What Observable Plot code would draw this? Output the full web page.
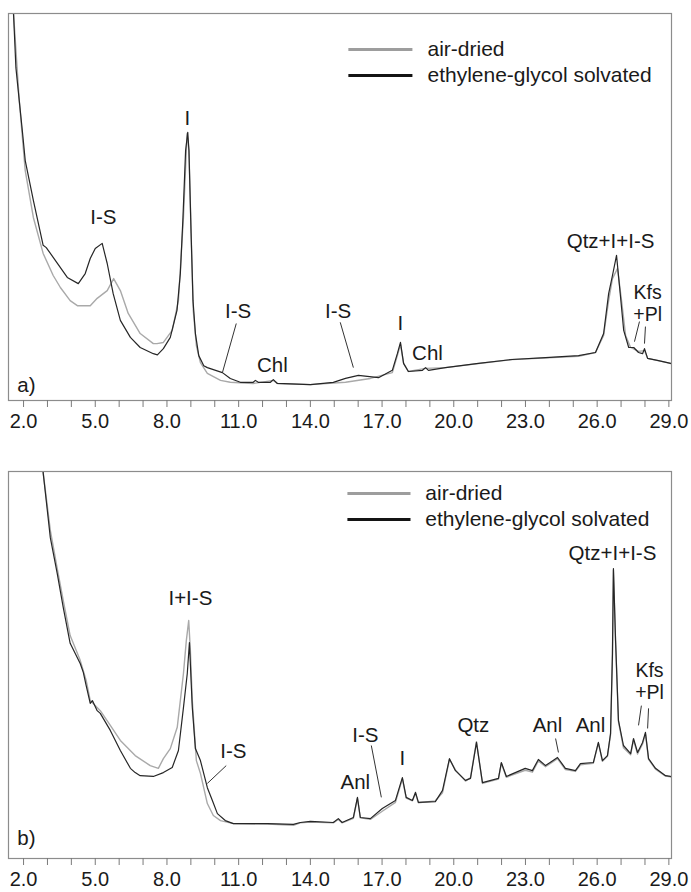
<!DOCTYPE html>
<html><head><meta charset="utf-8">
<script src="https://cdn.jsdelivr.net/npm/d3@7"></script>
<script src="https://cdn.jsdelivr.net/npm/@observablehq/plot@0.6"></script>
<style>
body{margin:0;background:#fff;}
#chart{width:691px;color:#1a1a1a;}
#chart svg{display:block;overflow:visible;}
g[aria-label="x-axis tick"]{stroke:#7a7a7a;}
</style></head><body><div id="chart"></div>
<script>
// ---- data (2θ in degrees, relative intensity) ----
const xTicks = d3.range(2, 30, 1);
const xTickLabels = [2, 5, 8, 11, 14, 17, 20, 23, 26, 29];
const seriesNames = ["air-dried", "ethylene-glycol solvated"];

const aAirDried = [[1.45,118],[1.58,100],[1.82,77.5],[2.07,59.4],[2.41,47.3],[2.82,38.0],[3.24,32.3],[3.54,29.2],[3.95,25.8],[4.25,24.5],[4.79,24.5],[5.08,26.4],[5.50,28.4],[5.77,31.5],[6.05,28.4],[6.38,22.5],[6.88,17.3],[7.43,14.7],[7.58,14.7],[7.85,15.0],[8.22,18.1],[8.48,25.8],[8.69,47.3],[8.84,69.0],[8.92,64.6],[9.01,43.2],[9.10,23.3],[9.23,14.2],[9.40,9.8],[9.69,7.0],[10.24,5.2],[10.65,4.7],[11.61,4.4],[12.45,5.2],[12.62,4.4],[14.00,4.1],[15.47,4.7],[16.51,5.7],[17.43,7.2],[17.64,11.6],[17.77,14.5],[17.90,9.6],[18.10,7.5],[18.82,8.3],[19.65,8.5],[22.45,10.6],[25.22,11.4],[25.93,12.4],[26.27,16.8],[26.48,25.8],[26.64,31.5],[26.85,34.1],[27.02,25.8],[27.19,16.8],[27.40,13.7],[27.73,12.7],[27.98,12.9],[28.11,10.9],[29.07,9.6],[29.11,9.5]];

const aGlycol = [[1.45,115],[1.58,100],[1.68,86.0],[1.82,77.5],[1.96,69.0],[2.07,62.0],[2.41,51.7],[2.82,40.1],[2.95,39.5],[3.24,37.0],[3.83,31.8],[4.29,30.2],[4.58,32.8],[4.79,36.7],[5.00,39.3],[5.29,40.6],[5.50,35.4],[5.75,27.6],[6.05,20.7],[6.47,16.3],[6.88,13.7],[7.43,12.1],[7.60,11.8],[7.85,13.4],[8.14,16.3],[8.42,23.3],[8.56,32.8],[8.67,47.3],[8.78,64.6],[8.87,69.3],[8.92,64.6],[9.01,43.2],[9.09,25.8],[9.19,17.3],[9.33,11.6],[9.54,9.0],[9.69,8.5],[10.32,7.2],[10.65,5.7],[11.07,4.7],[11.61,4.7],[11.70,5.2],[11.82,4.7],[12.33,4.7],[12.45,5.4],[12.62,4.4],[14.00,4.1],[14.96,4.7],[15.47,5.7],[16.01,6.5],[16.85,5.9],[17.43,7.8],[17.64,12.1],[17.77,15.0],[17.90,9.6],[18.10,7.5],[18.69,7.8],[18.82,8.5],[18.94,7.8],[19.65,8.5],[21.03,9.6],[22.45,10.6],[23.84,11.1],[25.22,11.6],[25.93,12.4],[26.27,17.3],[26.48,27.6],[26.64,32.3],[26.81,37.5],[26.94,29.2],[27.11,18.1],[27.32,13.7],[27.53,13.7],[27.73,12.4],[27.90,12.1],[27.98,13.4],[28.11,10.9],[28.57,10.3],[29.07,9.6],[29.11,9.5]];

const bAirDried = [[2.50,140],[2.82,99.7],[3.12,84.8],[3.41,74.9],[3.66,66.7],[3.95,57.6],[4.37,51.2],[4.62,46.0],[4.79,40.8],[5.21,38.2],[5.63,34.4],[6.05,30.5],[6.67,26.6],[7.30,24.0],[7.64,23.3],[7.85,25.8],[8.14,28.4],[8.43,33.9],[8.69,47.8],[8.81,56.3],[8.91,61.5],[8.98,53.7],[9.06,40.8],[9.23,25.3],[9.40,22.0],[9.69,14.2],[9.94,11.1],[10.24,9.8],[10.78,9.0],[12.20,8.9],[13.29,8.6],[13.58,9.2],[14.00,9.4],[14.96,9.2],[15.17,10.1],[15.33,9.2],[15.80,10.4],[15.97,15.5],[16.09,10.5],[16.51,10.1],[17.01,12.2],[17.56,14.5],[17.85,20.6],[18.01,15.6],[18.27,14.9],[18.40,16.8],[18.52,14.4],[19.23,14.9],[19.53,17.0],[19.82,25.6],[20.07,22.9],[20.49,20.0],[20.70,20.9],[20.95,30.2],[21.20,19.4],[21.87,20.5],[21.99,24.6],[22.20,21.0],[22.99,22.8],[23.29,22.3],[23.54,25.2],[23.84,23.7],[24.34,25.8],[24.67,23.0],[25.09,22.5],[25.30,24.2],[25.84,24.6],[26.05,29.8],[26.22,25.1],[26.43,26.4],[26.56,32.0],[26.64,52.5],[26.68,74.5],[26.77,56.0],[26.89,35.4],[27.10,28.6],[27.40,26.8],[27.52,30.6],[27.69,27.0],[27.90,29.6],[28.02,32.2],[28.15,25.6],[28.44,23.1],[28.86,21.3],[29.07,21.1],[29.11,21.0]];

const bGlycol = [[2.50,140],[2.82,99.7],[3.12,82.9],[3.41,73.6],[3.66,64.9],[3.95,55.6],[4.37,50.4],[4.50,48.1],[4.62,44.7],[4.79,40.1],[4.88,40.8],[5.08,38.2],[5.21,37.5],[5.63,33.1],[6.05,27.9],[6.47,23.3],[6.67,22.2],[6.88,21.4],[7.43,21.2],[7.85,22.2],[8.22,23.5],[8.48,27.9],[8.69,39.0],[8.85,47.8],[8.94,55.8],[9.06,39.0],[9.19,28.4],[9.40,25.3],[9.69,18.3],[9.90,15.0],[10.11,11.6],[10.44,9.8],[10.78,9.0],[12.20,9.0],[13.29,8.8],[13.58,9.3],[14.00,9.6],[14.96,9.3],[15.17,10.3],[15.33,9.3],[15.80,10.6],[15.97,15.8],[16.09,10.6],[16.51,10.3],[17.01,12.9],[17.56,15.0],[17.85,20.9],[18.01,15.8],[18.27,15.0],[18.40,17.1],[18.52,14.5],[19.23,14.7],[19.53,17.6],[19.82,25.8],[20.07,22.7],[20.49,20.2],[20.70,20.7],[20.95,30.0],[21.20,19.6],[21.87,20.7],[21.99,24.8],[22.20,21.2],[22.99,23.3],[23.29,22.7],[23.54,25.6],[23.84,24.0],[24.34,26.1],[24.67,23.3],[25.09,22.7],[25.30,24.5],[25.84,24.8],[26.05,30.0],[26.22,25.3],[26.43,26.6],[26.56,32.3],[26.64,53.0],[26.68,74.9],[26.77,56.3],[26.89,35.7],[27.10,29.2],[27.40,27.1],[27.52,31.0],[27.69,27.4],[27.90,30.0],[28.02,32.6],[28.15,25.8],[28.44,23.3],[28.86,21.4],[29.07,21.2],[29.11,21.1]];

// ---- annotations ----
const aLabels = [
  {t:"I-S", x:5.34, y:47.3}, {t:"I", x:8.85, y:72.9}, {t:"I-S", x:10.98, y:23.0},
  {t:"Chl", x:12.41, y:9.0}, {t:"I-S", x:15.16, y:23.0}, {t:"I", x:17.77, y:19.9},
  {t:"Chl", x:18.90, y:12.1}, {t:"Qtz+I+I-S", x:26.56, y:41.1}
];
const aStacked = [{t:"Kfs\n+Pl", x:28.11, y:25.1}];
const aLeaders = [
  {x1:10.90, y1:19.9, x2:10.32, y2:7.2}, {x1:15.25, y1:20.2, x2:15.80, y2:8.5},
  {x1:27.77, y1:20.4, x2:27.56, y2:15.2}, {x1:28.02, y1:19.1, x2:27.98, y2:14.7}
];
const bLabels = [
  {t:"I+I-S", x:8.98, y:67.2}, {t:"I-S", x:10.78, y:27.6}, {t:"Anl", x:15.88, y:19.6},
  {t:"I-S", x:16.30, y:31.8}, {t:"I", x:17.85, y:25.8}, {t:"Qtz", x:20.82, y:34.4},
  {t:"Anl", x:23.92, y:34.4}, {t:"Anl", x:25.72, y:34.4}, {t:"Qtz+I+I-S", x:26.64, y:78.8}
];
const bStacked = [{t:"Kfs\n+Pl", x:28.19, y:45.8}];
const bLeaders = [
  {x1:10.48, y1:24.0, x2:9.69, y2:19.4}, {x1:16.55, y1:29.2, x2:16.97, y2:15.8},
  {x1:24.26, y1:31.0, x2:24.38, y2:27.4},
  {x1:27.85, y1:39.5, x2:27.73, y2:34.4}, {x1:28.15, y1:38.8, x2:28.11, y2:33.6}
];

const FONT = '"Liberation Sans", Arial, Helvetica, sans-serif';
const GREY = "#a9a9a9", BLACK = "#262626";

function panel(opts) {
  const toObj = arr => arr.map(([x, y]) => ({x, y}));
  const legendRows = seriesNames.map((name, i) => ({
    name, color: i === 0 ? "#9d9d9d" : "#141414",
    y: opts.legend.y[i], x1: opts.legend.x1, x2: opts.legend.x2, tx: opts.legend.tx
  }));
  return Plot.plot({
    width: 691, height: opts.height,
    marginLeft: 8, marginRight: 20, marginTop: opts.marginTop, marginBottom: opts.marginBottom,
    style: {fontFamily: FONT, fontSize: "20px", background: "#fff", color: "#1a1a1a"},
    x: {domain: [1.37, 29.11]},
    y: {domain: [0, 100], axis: null},
    marks: [
      Plot.line(toObj(opts.air), {x: "x", y: "y", stroke: GREY, strokeWidth: 1.4, clip: true}),
      Plot.line(toObj(opts.eg), {x: "x", y: "y", stroke: BLACK, strokeWidth: 1.2, clip: true}),
      Plot.link(opts.leaders, {x1: "x1", y1: "y1", x2: "x2", y2: "y2", stroke: "#333", strokeWidth: 1}),
      Plot.text(opts.labels, {x: "x", y: "y", text: "t", fontSize: 20.5, fill: "#1a1a1a"}),
      Plot.text(opts.stacked, {x: "x", y: "y", text: "t", fontSize: 19.5, lineHeight: 1.12, fill: "#1a1a1a"}),
      Plot.text([opts.tag], {x: d => d.x, y: d => d.y, text: d => d.t, textAnchor: "start", fontSize: 20.5, fill: "#1a1a1a"}),
      Plot.link(legendRows, {x1: "x1", x2: "x2", y1: "y", y2: "y", stroke: "color", strokeWidth: 3}),
      Plot.text(legendRows, {x: "tx", y: "y", text: "name", textAnchor: "start", fontSize: 21, fill: "#1a1a1a"}),
      Plot.frame({stroke: "#8c8c8c", strokeWidth: 1.2}),
      Plot.axisX({ticks: xTicks, tickSize: 7, tickPadding: 6, fontSize: 20,
        tickFormat: d => xTickLabels.includes(d) ? d.toFixed(1) : ""})
    ]
  });
}

const root = document.getElementById("chart");
root.append(panel({
  air: aAirDried, eg: aGlycol, labels: aLabels, stacked: aStacked, leaders: aLeaders,
  tag: {t: "a)", x: 1.74, y: 3.9},
  legend: {y: [90.7, 84.0], x1: 15.59, x2: 18.27, tx: 18.9},
  height: 440, marginTop: 13, marginBottom: 40
}));
root.append(panel({
  air: bAirDried, eg: bGlycol, labels: bLabels, stacked: bStacked, leaders: bLeaders,
  tag: {t: "b)", x: 1.74, y: 5.2},
  legend: {y: [94.3, 87.6], x1: 15.55, x2: 18.19, tx: 18.81},
  height: 452, marginTop: 31, marginBottom: 34
}));
</script></body></html>
